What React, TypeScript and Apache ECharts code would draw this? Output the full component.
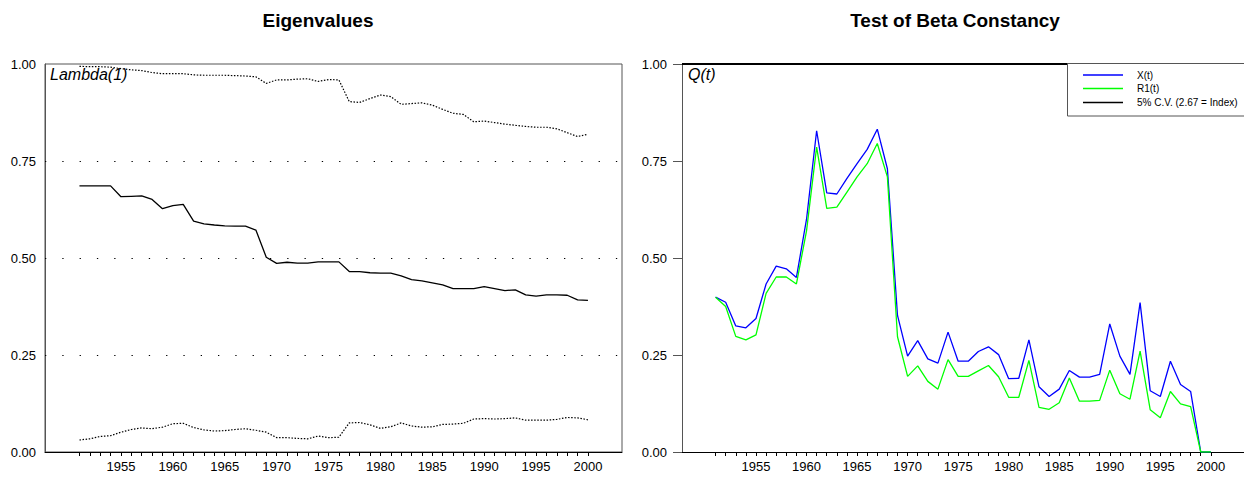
import React, { useEffect, useRef } from "react";
import * as echarts from "echarts";

const years: number[] = [];
for (let y = 1951; y <= 2000; y++) years.push(y);

const labelYears = [1955, 1960, 1965, 1970, 1975, 1980, 1985, 1990, 1995, 2000];
const yTicks = [0, 0.25, 0.5, 0.75, 1];
const gridLevels = [0.25, 0.5, 0.75];
const cvLevel = 1.0;

const lambdaUpper = [
  0.994, 0.993, 0.993, 0.992, 0.988, 0.985, 0.983, 0.978, 0.975, 0.975,
  0.975, 0.972, 0.971, 0.971, 0.971, 0.970, 0.969, 0.967, 0.950, 0.959,
  0.959, 0.961, 0.962, 0.955, 0.960, 0.959, 0.903, 0.901, 0.911, 0.920,
  0.916, 0.896, 0.898, 0.900, 0.894, 0.883, 0.873, 0.870, 0.851, 0.853,
  0.849, 0.845, 0.842, 0.839, 0.837, 0.837, 0.833, 0.823, 0.813, 0.819,
];
const lambda = [
  0.686, 0.686, 0.686, 0.686, 0.658, 0.659, 0.660, 0.651, 0.627, 0.635,
  0.638, 0.595, 0.588, 0.585, 0.583, 0.582, 0.582, 0.572, 0.502, 0.486,
  0.489, 0.487, 0.487, 0.490, 0.490, 0.490, 0.465, 0.465, 0.462, 0.461,
  0.461, 0.454, 0.444, 0.441, 0.436, 0.431, 0.421, 0.421, 0.421, 0.426,
  0.421, 0.416, 0.418, 0.405, 0.402, 0.405, 0.405, 0.404, 0.392, 0.391,
];
const lambdaLower = [
  0.031, 0.034, 0.040, 0.042, 0.051, 0.058, 0.062, 0.060, 0.064, 0.073,
  0.074, 0.063, 0.057, 0.054, 0.055, 0.058, 0.060, 0.056, 0.051, 0.037,
  0.037, 0.035, 0.034, 0.041, 0.037, 0.038, 0.075, 0.076, 0.070, 0.061,
  0.065, 0.075, 0.067, 0.064, 0.065, 0.071, 0.072, 0.074, 0.085, 0.086,
  0.085, 0.086, 0.088, 0.082, 0.082, 0.082, 0.084, 0.089, 0.088, 0.083,
];
const xT = [
  0.399, 0.386, 0.325, 0.320, 0.344, 0.433, 0.479, 0.472, 0.450, 0.600,
  0.828, 0.668, 0.665, 0.705, 0.743, 0.780, 0.832, 0.730, 0.352, 0.247,
  0.287, 0.240, 0.229, 0.309, 0.234, 0.234, 0.259, 0.271, 0.251, 0.189,
  0.190, 0.289, 0.168, 0.143, 0.162, 0.210, 0.193, 0.193, 0.200, 0.330,
  0.247, 0.200, 0.385, 0.158, 0.143, 0.234, 0.174, 0.156, 0.0, 0.0,
];
const r1T = [
  0.399, 0.375, 0.298, 0.289, 0.302, 0.409, 0.451, 0.451, 0.433, 0.570,
  0.786, 0.628, 0.631, 0.670, 0.709, 0.743, 0.795, 0.709, 0.297, 0.195,
  0.222, 0.182, 0.162, 0.238, 0.195, 0.195, 0.209, 0.223, 0.194, 0.141,
  0.141, 0.236, 0.115, 0.110, 0.127, 0.191, 0.131, 0.131, 0.133, 0.211,
  0.150, 0.136, 0.260, 0.109, 0.088, 0.156, 0.124, 0.117, 0.0, 0.0,
];

const FONT = "'Liberation Sans', Arial, Helvetica, sans-serif";
const pairs = (arr: number[]) => years.map((y, i) => [y, arr[i]]);

const xMin = 1947.68;
const xMax = 2003.28;

function xAxisCfg(gridIndex: number) {
  return {
    type: "value",
    gridIndex,
    min: xMin,
    max: xMax,
    splitLine: { show: false },
    axisLine: { show: true, lineStyle: { color: "#000", width: 1 } },
    axisTick: { show: true, customValues: years, length: 4, lineStyle: { color: "#000" } },
    axisLabel: {
      show: true,
      customValues: labelYears,
      color: "#000",
      fontSize: 13,
      fontFamily: FONT,
      margin: 8,
      formatter: (v: number) => String(Math.round(v)),
    },
  };
}

function yAxisCfg(gridIndex: number, ticks: boolean) {
  return {
    type: "value",
    gridIndex,
    min: 0,
    max: 1,
    interval: 0.25,
    splitLine: { show: false },
    axisLine: { show: true, lineStyle: { color: "#555", width: 1 } },
    axisTick: { show: ticks, length: 9, lineStyle: { color: "#555" } },
    axisLabel: {
      show: true,
      customValues: yTicks,
      color: "#000",
      fontSize: 13,
      fontFamily: FONT,
      margin: ticks ? 15 : 9,
      formatter: (v: number) => v.toFixed(2),
    },
  };
}

export default function App() {
  const ref = useRef<HTMLDivElement>(null);
  useEffect(() => {
    if (!ref.current) return;
    const chart = echarts.init(ref.current, null, { renderer: "svg" });
    const dotted = { color: "#000", width: 1.2, type: [1.5, 1.6] as number[] };
    chart.setOption({
      animation: false,
      backgroundColor: "#fff",
      grid: [
        { left: 45, top: 64, width: 577, height: 388, show: true, borderColor: "#555", borderWidth: 1, backgroundColor: "transparent" },
        { left: 682, top: 64, width: 569, height: 388, show: false },
      ],
      xAxis: [xAxisCfg(0), xAxisCfg(1)],
      yAxis: [yAxisCfg(0, false), yAxisCfg(1, true)],
      series: [
        {
          type: "line", xAxisIndex: 0, yAxisIndex: 0, data: pairs(lambdaUpper),
          symbol: "none", lineStyle: dotted, silent: true,
        },
        {
          type: "line", xAxisIndex: 0, yAxisIndex: 0, data: pairs(lambda),
          symbol: "none", lineStyle: { color: "#000", width: 1.3 }, silent: true,
          markLine: {
            silent: true,
            symbol: ["none", "none"],
            label: { show: false },
            lineStyle: { color: "#000", width: 1.2, type: [1.3, 16] },
            data: gridLevels.map((v) => ({ yAxis: v })),
          },
        },
        {
          type: "line", xAxisIndex: 0, yAxisIndex: 0, data: pairs(lambdaLower),
          symbol: "none", lineStyle: dotted, silent: true,
        },
        {
          name: "X(t)", type: "line", xAxisIndex: 1, yAxisIndex: 1, data: pairs(xT),
          symbol: "none", lineStyle: { color: "#0000ff", width: 1.3 }, silent: true,
          markLine: {
            silent: true,
            symbol: ["none", "none"],
            label: { show: false },
            lineStyle: { color: "#000", width: 2, type: "solid" },
            data: [{ yAxis: cvLevel }],
          },
        },
        {
          name: "R1(t)", type: "line", xAxisIndex: 1, yAxisIndex: 1, data: pairs(r1T),
          symbol: "none", lineStyle: { color: "#00ff00", width: 1.3 }, silent: true,
        },
      ],
      graphic: [
        { type: "text", x: 318, y: 20, z: 100, style: { text: "Eigenvalues", font: `bold 19px ${FONT}`, fill: "#000", textAlign: "center", textVerticalAlign: "middle" } },
        { type: "text", x: 955, y: 20, z: 100, style: { text: "Test of Beta Constancy", font: `bold 19px ${FONT}`, fill: "#000", textAlign: "center", textVerticalAlign: "middle" } },
        { type: "text", x: 50, y: 74, z: 100, style: { text: "Lambda(1)", font: `italic 16px ${FONT}`, fill: "#000", textAlign: "left", textVerticalAlign: "middle" } },
        { type: "text", x: 688, y: 74, z: 100, style: { text: "Q(t)", font: `italic 16px ${FONT}`, fill: "#000", textAlign: "left", textVerticalAlign: "middle" } },
        { type: "rect", z: 100, shape: { x: 1067.5, y: 63.5, width: 200, height: 52.5 }, style: { fill: "#fff", stroke: "#555", lineWidth: 1 } },
        { type: "line", z: 101, shape: { x1: 1083, y1: 75, x2: 1123, y2: 75 }, style: { stroke: "#0000ff", lineWidth: 1.3 } },
        { type: "line", z: 101, shape: { x1: 1083, y1: 88.5, x2: 1123, y2: 88.5 }, style: { stroke: "#00ff00", lineWidth: 1.3 } },
        { type: "line", z: 101, shape: { x1: 1083, y1: 102.5, x2: 1123, y2: 102.5 }, style: { stroke: "#000", lineWidth: 1.3 } },
        { type: "text", z: 101, x: 1137, y: 75, style: { text: "X(t)", font: `10px ${FONT}`, fill: "#000", textVerticalAlign: "middle" } },
        { type: "text", z: 101, x: 1137, y: 88.5, style: { text: "R1(t)", font: `10px ${FONT}`, fill: "#000", textVerticalAlign: "middle" } },
        { type: "text", z: 101, x: 1137, y: 102.5, style: { text: "5% C.V. (2.67 = Index)", font: `10px ${FONT}`, fill: "#000", textVerticalAlign: "middle" } },
      ],
    });
    return () => chart.dispose();
  }, []);
  return (
    <div
      ref={ref}
      style={{ position: "absolute", left: 0, top: 0, width: 1244, height: 478 }}
    />
  );
}
